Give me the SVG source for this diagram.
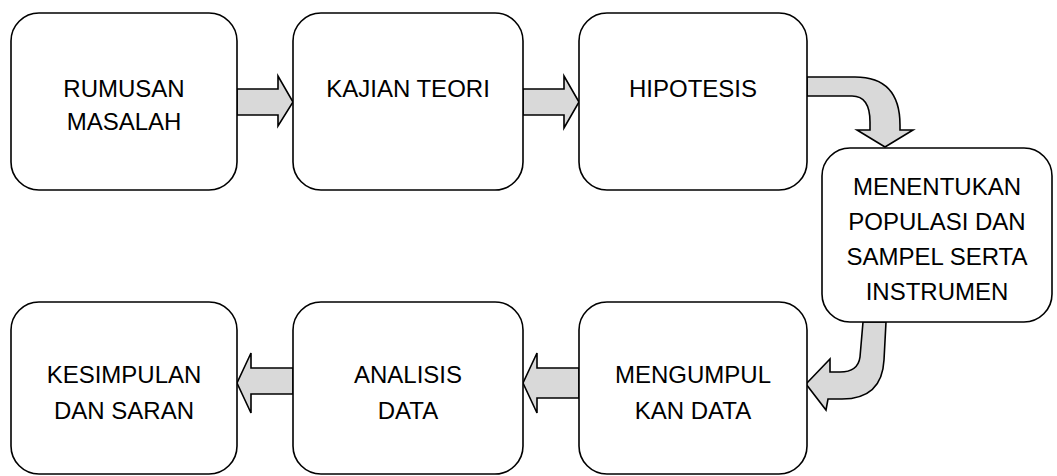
<svg xmlns="http://www.w3.org/2000/svg" width="1057" height="476" viewBox="0 0 1057 476">
<style>
.box{fill:#fff;stroke:#000;stroke-width:1.6}
.arr{fill:#d9d9d9;stroke:#000;stroke-width:1.6;stroke-linejoin:miter}
text{font-family:"Liberation Sans",Arial,sans-serif;font-size:24px;fill:#000;text-anchor:middle}
</style>
<rect width="1057" height="476" fill="#fff"/>
<g id="connectors">
<path class="arr" d="M237,89 L278,89 L278,76 L293,102 L278,126 L278,115 L237,115 Z"/>
<path class="arr" d="M523,89 L564,89 L564,76 L579,102 L564,128 L564,115 L523,115 Z"/>
<path class="arr" d="M807,77 L855,77 Q900,77 900,125 L900,130 L913,130 L885,147 L857,130 L870,130 L870,122 Q870,96 852,96 L807,96 Z"/>
<path class="arr" d="M863,322 L860,357 Q858,372 840,372 L830,372 L830,359 L806,384 L826,410 L828,399 L842,399 Q882,399 884,360 L886,322 Z"/>
<path class="arr" d="M579,368 L537,368 L537,353 L523,383 L537,413 L537,398 L579,398 Z"/>
<path class="arr" d="M293,368 L251,368 L251,353 L237,383 L251,413 L251,394 L293,394 Z"/>
</g>
<g id="n1"><rect class="box" x="11" y="13" width="226" height="177" rx="28"/><text x="124" y="97">RUMUSAN</text><text x="124" y="130">MASALAH</text></g>
<g id="n2"><rect class="box" x="293" y="13" width="230" height="177" rx="28"/><text x="408" y="97">KAJIAN TEORI</text></g>
<g id="n3"><rect class="box" x="579" y="13" width="228" height="177" rx="28"/><text x="693" y="97">HIPOTESIS</text></g>
<g id="n4"><rect class="box" x="822" y="148" width="230" height="174" rx="28"/><text x="937" y="195">MENENTUKAN</text><text x="937" y="230">POPULASI DAN</text><text x="937" y="265">SAMPEL SERTA</text><text x="937" y="300">INSTRUMEN</text></g>
<g id="n5"><rect class="box" x="579" y="302" width="228" height="172" rx="28"/><text x="693" y="383">MENGUMPUL</text><text x="693" y="419">KAN DATA</text></g>
<g id="n6"><rect class="box" x="293" y="302" width="230" height="172" rx="28"/><text x="408" y="383">ANALISIS</text><text x="408" y="419">DATA</text></g>
<g id="n7"><rect class="box" x="11" y="302" width="226" height="172" rx="28"/><text x="124" y="383">KESIMPULAN</text><text x="124" y="419">DAN SARAN</text></g>
</svg>
